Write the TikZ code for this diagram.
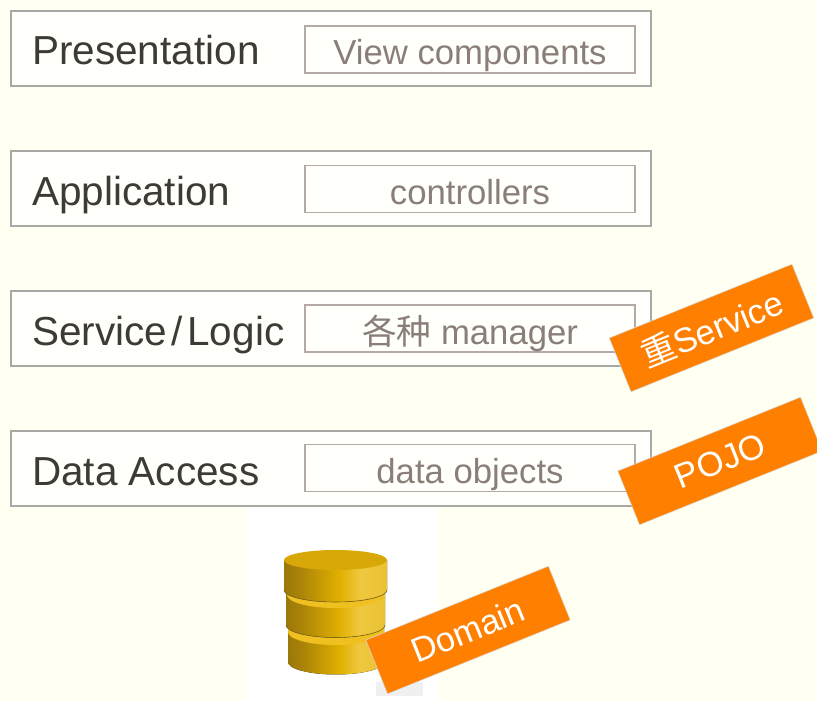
\documentclass[tikz,border=0pt]{standalone}
\usepackage{fontspec}
\setmainfont{Liberation Sans}
\newfontfamily\cjkfont{Noto Sans CJK SC}
\definecolor{bgc}{HTML}{FFFFF2}
\definecolor{edgec}{HTML}{A8A8A4}
\definecolor{inedgec}{HTML}{B5A9A6}
\definecolor{boxfill}{HTML}{FFFFFB}
\definecolor{darktxt}{HTML}{3E3A36}
\definecolor{softtxt}{HTML}{8A7F78}
\definecolor{tagc}{HTML}{FF8000}
\definecolor{gA}{HTML}{C89C10}
\definecolor{gB}{HTML}{8F6E08}
\definecolor{gC}{HTML}{A88208}
\definecolor{gD}{HTML}{E0B000}
\definecolor{gE}{HTML}{F0C840}
\definecolor{gF}{HTML}{E8C030}
\definecolor{gG}{HTML}{D8A800}
\definecolor{rimc}{HTML}{F0C020}
\definecolor{topc}{HTML}{D8A808}
\definecolor{seamc}{HTML}{7E6A18}
\pgfdeclarehorizontalshading{goldside}{100bp}{
 color(0bp)=(gA);
 color(18bp)=(gB);
 color(32bp)=(gC);
 color(52bp)=(gD);
 color(62bp)=(gE);
 color(78bp)=(gF);
 color(100bp)=(gG)}
\tikzset{
 x=1pt,y=-1pt,
 layerbox/.style={draw=edgec,line width=1.3pt,fill=boxfill,minimum width=640pt,minimum height=75pt,inner sep=0pt},
 innerbox/.style={draw=inedgec,line width=1.1pt,fill=boxfill,minimum width=330pt,minimum height=47pt,inner sep=0pt,text height=37pt,text depth=6pt,font=\fontsize{34.7}{38}\selectfont,text=softtxt},
 layername/.style={anchor=base west,inner sep=0pt,font=\fontsize{40.5}{44}\selectfont,text=darktxt},
 tag/.style={fill=tagc,draw=white!70!gray,line width=.5pt,minimum width=197pt,minimum height=58pt,inner sep=0pt,rotate=22,text=white,font=\fontsize{34.5}{38}\selectfont},
 band/.style={shading=goldside},
 rim/.style={fill=rimc},
 seam/.style={draw=seamc,line width=.6pt}
}
\begin{document}
\begin{tikzpicture}
\useasboundingbox (0,0) rectangle (817,701);
\clip (0,0) rectangle (817,701);
\fill[bgc] (0,0) rectangle (817,701);
\fill[white] (247,507) rectangle (438,701);
\node[layerbox] (b1) at (331,48.5) {};
\node[layerbox] (b2) at (331,188.5) {};
\node[layerbox] (b3) at (331,328.5) {};
\node[layerbox] (b4) at (331,468.5) {};
\node[innerbox] (i1) at (470,49.5) {View components};
\node[innerbox] (i2) at (470,189) {controllers};
\node[innerbox] (i3) at (470,328.5) {{\cjkfont 各种} manager};
\node[innerbox] (i4) at (470,468) {data objects};
\node[layername] (l1) at (32,65) {Presentation};
\node[layername] (l2) at (32,205) {Application};
\node[layername] (l3) at (32,345) {Service\hspace{4.5pt}/\hspace{4.5pt}Logic};
\node[layername] (l4) at (32,485) {Data Access};
% database
\fill[band] (288,627) -- (288,662) arc[start angle=180,end angle=360,x radius=48,y radius=-12.5] -- (384,627) -- cycle;
\fill[rim] (288,632) arc[start angle=180,end angle=360,x radius=48,y radius=-13] -- (384,628) -- (288,628) -- cycle;
\fill[band] (286,590) -- (286,625) arc[start angle=180,end angle=360,x radius=49.5,y radius=-12.5] -- (385,590) -- cycle;
\draw[seam] (286,625) arc[start angle=180,end angle=360,x radius=49.5,y radius=-12.5];
\fill[rim] (287,595) arc[start angle=180,end angle=360,x radius=48.5,y radius=-13] -- (384,591) -- (287,591) -- cycle;
\fill[band] (284,560) -- (284,590) arc[start angle=180,end angle=360,x radius=51.5,y radius=-12] -- (387,560) -- cycle;
\draw[seam] (284,590) arc[start angle=180,end angle=360,x radius=51.5,y radius=-12];
\fill[topc] (335.5,560) ellipse[x radius=51.5,y radius=10];
\fill[gray!12] (376,682) rectangle (423,696);
\node[tag] (t1) at (711.5,328) {{\cjkfont 重}Service};
\node[tag] (t2) at (720,461) {POJO};
\node[tag] (t3) at (468,630) {Domain};
\end{tikzpicture}
\end{document}
